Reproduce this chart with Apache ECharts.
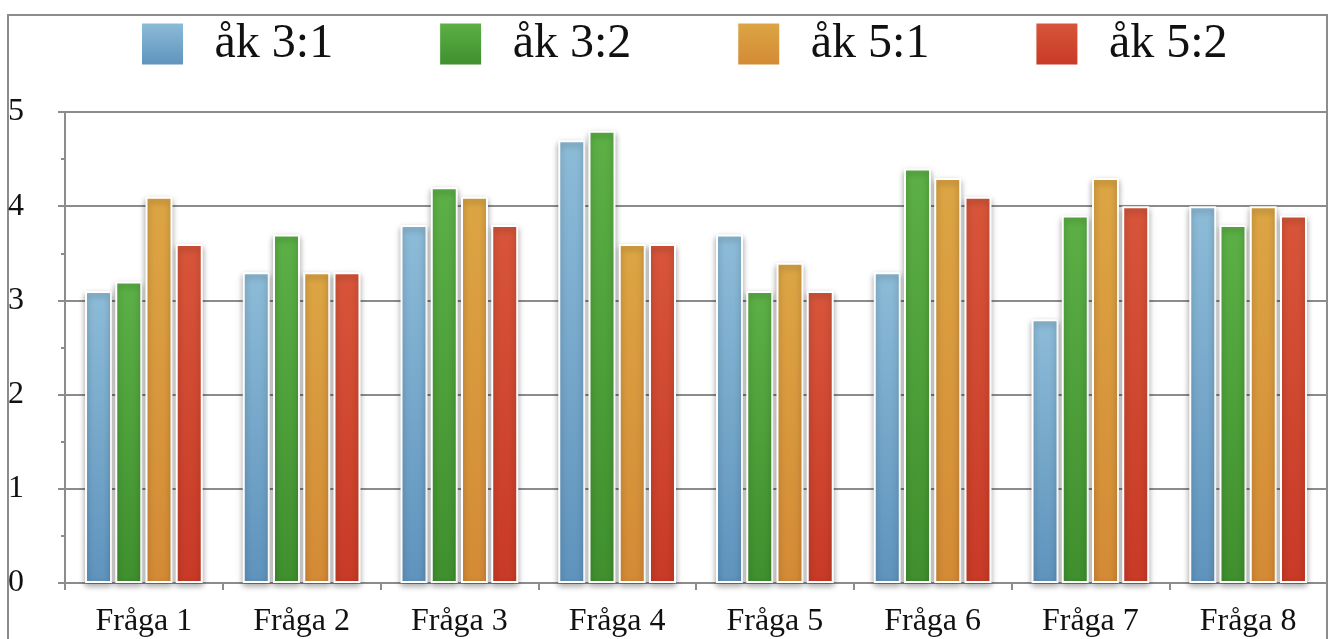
<!DOCTYPE html>
<html>
<head>
<meta charset="utf-8">
<script src="https://cdn.jsdelivr.net/npm/echarts@6/dist/echarts.min.js"></script>
<style>
  html, body { margin: 0; padding: 0; background: #fff; }
  #chart { width: 1330px; height: 639px; }
</style>
</head>
<body>
<div id="chart"></div>
<script>
// kategorier och värden
const categories = ['Fråga 1', 'Fråga 2', 'Fråga 3', 'Fråga 4', 'Fråga 5', 'Fråga 6', 'Fråga 7', 'Fråga 8'];
const seriesNames = ['åk 3:1', 'åk 3:2', 'åk 5:1', 'åk 5:2'];
const ak31 = [3.1, 3.3, 3.8, 4.7, 3.7, 3.3, 2.8, 4.0];
const ak32 = [3.2, 3.7, 4.2, 4.8, 3.1, 4.4, 3.9, 3.8];
const ak51 = [4.1, 3.3, 4.1, 3.6, 3.4, 4.3, 4.3, 4.0];
const ak52 = [3.6, 3.3, 3.8, 3.6, 3.1, 4.1, 4.0, 3.9];
const yTicks = [0, 1, 2, 3, 4, 5];

const chart = echarts.init(document.getElementById('chart'));
const serif = '"Liberation Serif", "DejaVu Serif", serif';

// färger: ljusare upptill, mörkare nedtill
const colors = [
  ['#8dbcd8', '#5f93bd'],
  ['#5cb046', '#3f8f2e'],
  ['#dca544', '#d48a35'],
  ['#d7553a', '#c83a26']
];
function grad(c) {
  return new echarts.graphic.LinearGradient(0, 0, 0, 1, [
    { offset: 0, color: c[0] },
    { offset: 1, color: c[1] }
  ]);
}

const data = [ak31, ak32, ak51, ak52];
const series = seriesNames.map((name, i) => ({
  name: name,
  type: 'bar',
  data: data[i],
  barWidth: 27,
  barGap: '12%',
  itemStyle: {
    color: grad(colors[i]),
    borderColor: '#fff',
    borderWidth: 2,
    shadowBlur: 6,
    shadowColor: 'rgba(0,0,0,0.35)',
    shadowOffsetY: 3
  }
}));

const option = {
  animation: false,
  color: colors.map(c => c[1]),
  graphic: [{
    type: 'rect',
    shape: { x: 8, y: 15, width: 1319, height: 700 },
    style: { fill: 'none', stroke: '#8c8c8c', lineWidth: 2 },
    silent: true
  }],
  legend: {
    top: 15,
    left: 136,
    itemWidth: 42,
    itemHeight: 42,
    itemGap: 106,
    icon: 'rect',
    textStyle: {
      fontFamily: serif,
      fontSize: 48,
      color: '#111',
      padding: [0, 0, 0, 26]
    },
    itemStyle: { borderColor: '#fff', borderWidth: 1 },
    data: seriesNames
  },
  grid: {
    left: 65,
    right: 3,
    top: 112,
    bottom: 56
  },
  xAxis: {
    type: 'category',
    data: categories,
    axisLine: { lineStyle: { color: '#8c8c8c', width: 2 } },
    axisTick: { show: true, length: 7, lineStyle: { color: '#8c8c8c', width: 2 } },
    axisLabel: { fontFamily: serif, fontSize: 32, color: '#111', margin: 23 }
  },
  yAxis: {
    type: 'value',
    min: yTicks[0],
    max: yTicks[yTicks.length - 1],
    interval: 1,
    axisLine: { show: true, lineStyle: { color: '#8c8c8c', width: 2 } },
    axisTick: { show: true, length: 7, lineStyle: { color: '#8c8c8c', width: 2 } },
    minorTick: { show: true, splitNumber: 2, length: 4, lineStyle: { color: '#8c8c8c', width: 2 } },
    splitLine: { lineStyle: { color: '#8c8c8c', width: 2 } },
    axisLabel: {
      fontFamily: serif,
      fontSize: 32,
      color: '#111',
      align: 'left',
      margin: 57
    }
  },
  series: series
};

chart.setOption(option);
</script>
</body>
</html>
